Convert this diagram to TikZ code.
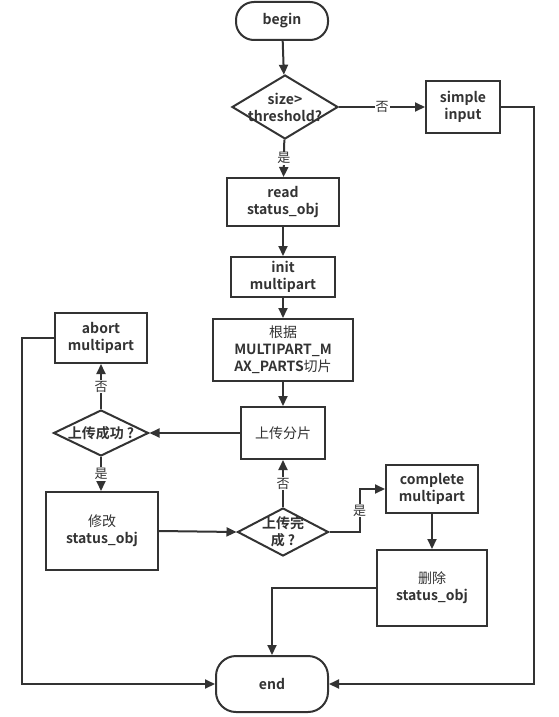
\documentclass[tikz,border=0pt]{standalone}
\usepackage{fontspec}
\setmainfont{Noto Sans CJK SC}[BoldFont={Noto Sans CJK SC Bold}]
\usetikzlibrary{shapes.geometric, arrows.meta}
\definecolor{ln}{HTML}{333333}
\newcommand{\zh}[1]{{\mdseries #1}}

\begin{document}
\begin{tikzpicture}[x=1pt, y=-1pt, line width=2pt, color=ln,
	>={Triangle[length=10pt, width=9pt]},
	bx/.style={rectangle, draw, fill=white, align=center, inner sep=1pt, font=\fontsize{14}{17}\selectfont\bfseries},
	dm/.style={diamond, draw, fill=white, align=center, inner sep=-10pt, font=\fontsize{14}{17}\selectfont\bfseries},
	tm/.style={rectangle, rounded corners=18pt, draw, fill=white, font=\fontsize{14}{17}\selectfont\bfseries},
	lb/.style={fill=white, inner sep=1pt, font=\fontsize{13}{15}\selectfont}]
	\useasboundingbox (0,0) rectangle (559,717);

	\node[tm, minimum width=92pt, minimum height=38pt] (bg) at (282,21) {begin};
	\node[dm, minimum width=106pt, minimum height=64pt] (d1) at (285,107) {size>\\threshold?};
	\node[bx, minimum width=74pt, minimum height=52pt] (si) at (463,107) {simple\\input};
	\node[bx, minimum width=112pt, minimum height=48pt] (rd) at (283,202) {read\\status\_obj};
	\node[bx, minimum width=104pt, minimum height=40pt] (init) at (283,277) {init\\multipart};
	\node[bx, minimum width=140pt, minimum height=62pt] (cut) at (283,350) {\zh{根据}\\MULTIPART\_M\\AX\_PARTS\zh{切片}};
	\node[bx, minimum width=84pt, minimum height=52pt] (up) at (283,433) {\zh{上传分片}};
	\node[dm, minimum width=95pt, minimum height=46pt] (d2) at (101,433) {上传成功 ?};
	\node[bx, minimum width=92pt, minimum height=50pt] (ab) at (101,338) {abort\\multipart};
	\node[bx, minimum width=112pt, minimum height=78pt] (md) at (102,531) {\zh{修改}\\status\_obj};
	\node[dm, minimum width=91pt, minimum height=48pt] (d3) at (283,532) {上传完\\成 ?};
	\node[bx, minimum width=92pt, minimum height=48pt] (cm) at (432,489) {complete\\multipart};
	\node[bx, minimum width=110pt, minimum height=76pt] (dl) at (432,588) {\zh{删除}\\status\_obj};
	\node[tm, rounded corners=20pt, minimum width=112pt, minimum height=56pt] (en) at (272,684) {end};

	\path[->] (bg) edge (d1);
	\path[->] (d1.east) edge node[lb] {否} (si.west);
	\path[->] (d1) edge node[lb] {是} (rd);
	\path[->] (rd) edge (init);
	\path[->] (init) edge (cut);
	\path[->] (cut) edge (up);
	\path[->] (up) edge (d2);
	\path[->] (d2) edge node[lb] {否} (ab);
	\path[->] (d2.south) edge node[lb] {是} (d2.south |- md.north);
	\path[->] (md.east) edge (d3.west);
	\path[->] (d3) edge node[lb] {否} (up);
	\draw[->] (d3.east) -- ++(30,0) |- node[lb, pos=.25] {是} (cm.west);
	\path[->] (cm) edge (dl);
	\draw[->] (dl.west) -| (en.north);
	\draw[->] (ab.west) -- ++(-32,0) |- (en.west);
	\draw[->] (si.east) -- ++(33,0) |- (en.east);
\end{tikzpicture}
\end{document}
